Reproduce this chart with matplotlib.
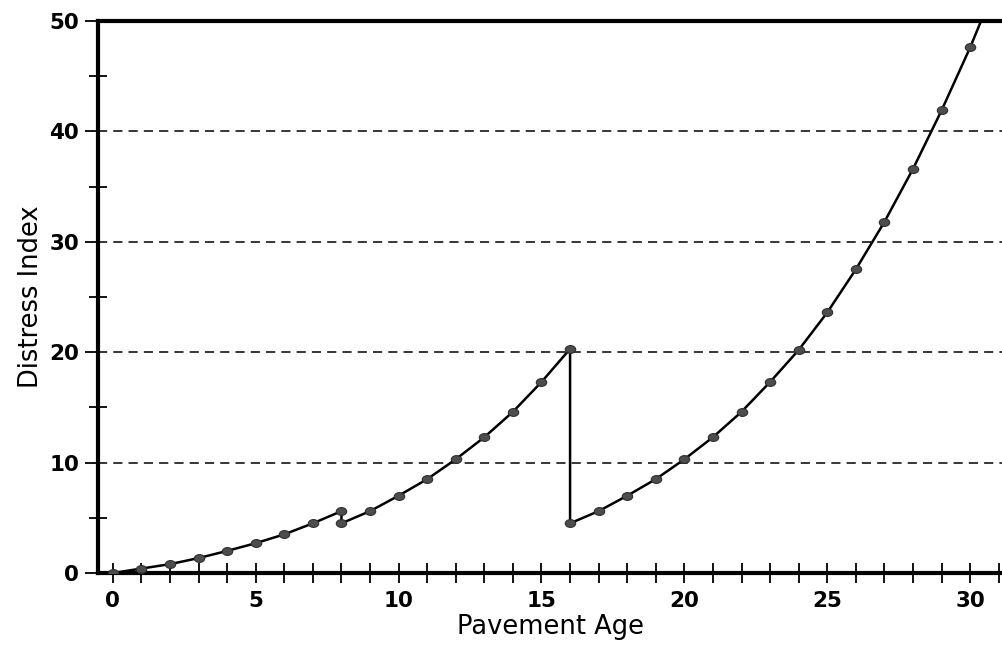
import numpy as np
import matplotlib
matplotlib.use("Agg")
import matplotlib.pyplot as plt
from matplotlib.ticker import MultipleLocator
from matplotlib.path import Path
from matplotlib.transforms import Affine2D

# Data (duplicated ages where the index resets)
age = [0, 1, 2, 3, 4, 5, 6, 7, 8,
       8, 9, 10, 11, 12, 13, 14, 15, 16,
       16, 17, 18, 19, 20, 21, 22, 23, 24, 25, 26, 27, 28, 29, 30]
distress = [0.0, 0.4, 0.8, 1.35, 2.0, 2.7, 3.5, 4.5, 5.6,
            4.5, 5.6, 7.0, 8.5, 10.3, 12.3, 14.6, 17.3, 20.3,
            4.5, 5.6, 7.0, 8.5, 10.3, 12.3, 14.6, 17.3, 20.2, 23.6, 27.5, 31.8, 36.6, 41.9, 47.6]
# curve continues past the top of the plot
tail_age = [30, 31]
tail_distress = [47.6, 53.9]

plt.rcParams['font.family'] = ['DejaVu Sans']

# slightly flattened dot, like the original
oval = Path.unit_circle().transformed(Affine2D().scale(1.0, 0.75))

fig = plt.figure(figsize=(10.03, 6.52), dpi=100)
ax = fig.add_axes([0.0977, 0.1212, 0.9023, 0.8466])

ax.plot(tail_age, tail_distress, color='black', lw=1.8, zorder=3)
ax.plot(age, distress, color='black', lw=1.8, marker=oval, markersize=7.5,
        markerfacecolor='#4d4d4d', markeredgecolor='#2e2e2e', markeredgewidth=0.8,
        zorder=4)

ax.set_xlim(-0.52, 31.15)
ax.set_ylim(0, 50)

ax.xaxis.set_major_locator(MultipleLocator(5))
ax.xaxis.set_minor_locator(MultipleLocator(1))
ax.yaxis.set_major_locator(MultipleLocator(10))
ax.yaxis.set_minor_locator(MultipleLocator(5))

ax.tick_params(axis='x', which='both', direction='inout', length=14, width=1.3,
               pad=6)
ax.tick_params(axis='y', which='major', direction='out', length=9.5, width=1.3,
               pad=4)
ax.tick_params(axis='y', which='minor', direction='inout', length=13, width=1.3)

for lab in ax.get_xticklabels() + ax.get_yticklabels():
    lab.set_fontsize(15.5)
    lab.set_fontweight('bold')

for y in [10, 20, 30, 40]:
    ax.axhline(y, color='black', lw=1.1, ls=(0, (6, 4)), zorder=1)

for side in ['left', 'bottom', 'top']:
    ax.spines[side].set_linewidth(3)
ax.spines['right'].set_visible(False)

ax.set_xlabel('Pavement Age', fontsize=18.5, labelpad=2)
ax.set_ylabel('Distress Index', fontsize=18.5, labelpad=4)

fig.savefig('out.png', dpi=100)
